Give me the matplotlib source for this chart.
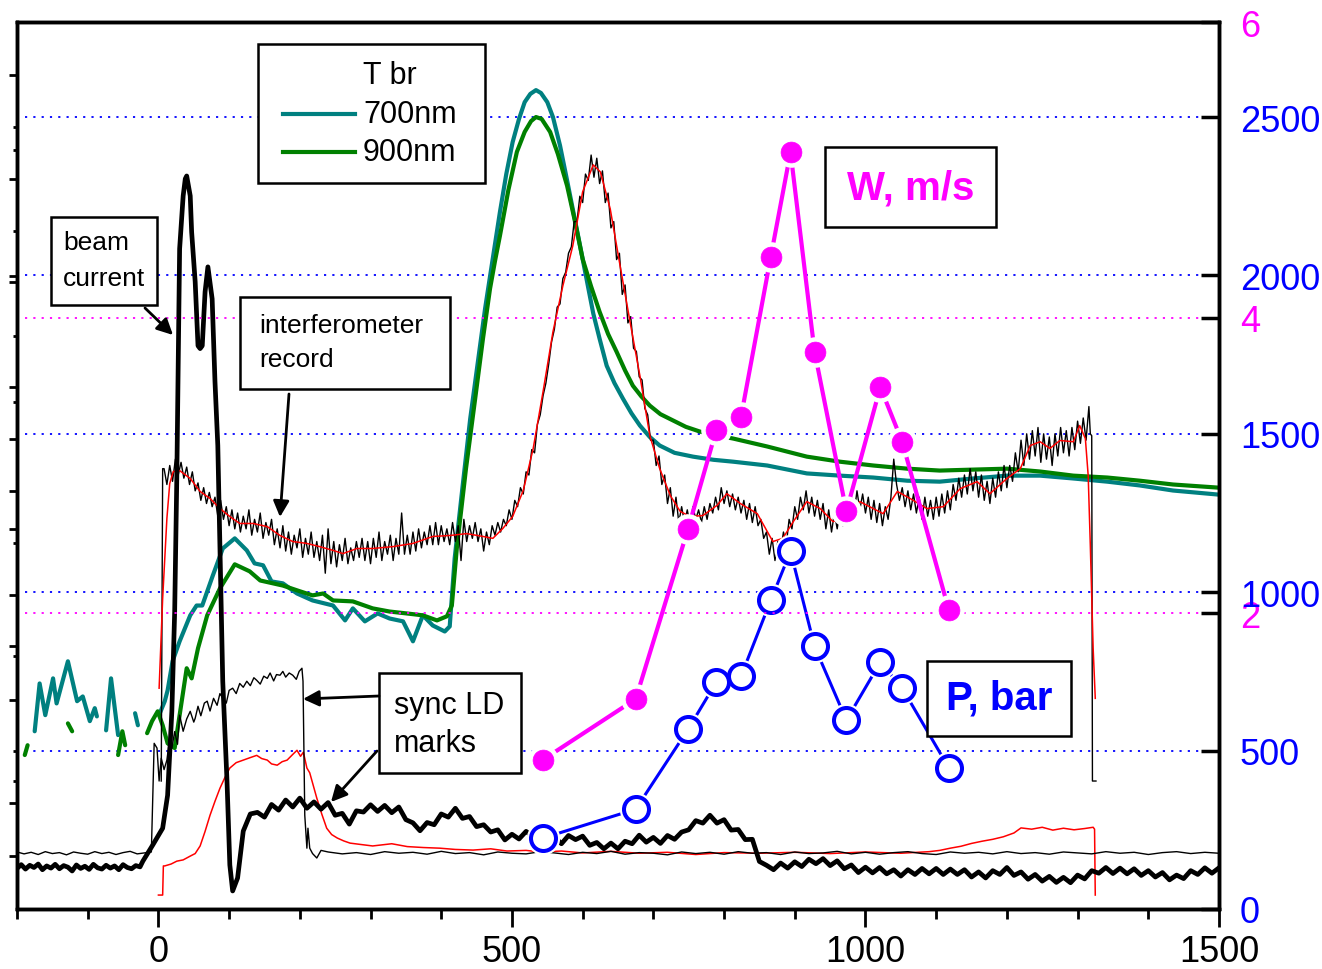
"""
Beam current / interferometer / brightness temperature record with W and P points
"""

import numpy as np
import matplotlib
matplotlib.use("Agg")
import matplotlib.pyplot as plt
from matplotlib.patches import Rectangle, FancyArrowPatch
from matplotlib.lines import Line2D

plt.rcParams["font.family"] = ["Liberation Sans", "DejaVu Sans"]

W_PX, H_PX = 1322, 970

# ---------------- data (x in ns, y in right-axis units) ----------------
# W (m/s) and P (bar) points
pt_x = [544, 675, 749, 789, 824, 866, 894, 928, 973, 1021, 1052, 1118]
w_ms = [1.01, 1.42, 2.57, 3.24, 3.33, 4.41, 5.12, 3.77, 2.69, 3.53, 3.16, 2.02]
p_bar = [224, 315, 567, 716, 735, 974, 1129, 829, 596, 779, 697, 445]

# T br 700 nm (teal); nan = gaps in the pre-trigger noise
t700_x = [-175, -168, -160, -149, -144, -128, -115, -107, -97, -90, -87, np.nan,
          -74, -67, -57, np.nan, -33, -29, np.nan,
          2, 9, 13, 20, 30, 45, 54, 62, 77, 91, 108, 125, 136, 148, 160, 176,
          196, 218, 247, 264, 275, 292, 310, 327, 346, 360, 374, 388, 405, 412,
          419, 430, 441, 452, 462, 473, 483, 492, 501, 510, 518, 526, 534, 541,
          550, 558, 568, 578, 586, 594, 600, 608, 615, 624, 634, 645, 657, 669,
          681, 695, 709, 730, 756, 785, 813, 861, 917, 964, 1011, 1059, 1105,
          1152, 1200, 1247, 1294, 1342, 1388, 1435, 1500]
t700_y = [561, 712, 612, 728, 649, 782, 656, 671, 593, 634, 608, np.nan,
          564, 728, 549, np.nan, 618, 580, np.nan,
          618, 656, 690, 782, 845, 927, 958, 958, 1053, 1138, 1170, 1132, 1091,
          1085, 1034, 1028, 996, 974, 958, 911, 949, 908, 933, 917, 908, 845,
          927, 895, 876, 892, 1107, 1330, 1548, 1730, 1895, 2055, 2200, 2320,
          2421, 2494, 2547, 2573, 2585, 2576, 2547, 2500, 2410, 2300, 2210,
          2120, 2052, 1960, 1880, 1800, 1715, 1660, 1611, 1565, 1526, 1490,
          1463, 1440, 1428, 1418, 1412, 1400, 1375, 1368, 1362, 1352, 1349,
          1359, 1368, 1368, 1359, 1349, 1337, 1321, 1308]

# T br 900 nm (green)
t900_x = [-189, -185, np.nan, -128, -122, np.nan, -57, -51, -47, np.nan,
          -16, -9, -1, 6, 13, 23, 30, 40, 47, 56, 69, 87, 108, 129, 144, 162,
          176, 200, 218, 233, 247, 275, 303, 327, 351, 374, 394, 408, 415, 422,
          435, 448, 459, 469, 476, 483, 495, 507, 518, 527, 534, 542, 554, 565,
          578, 589, 600, 612, 624, 636, 648, 660, 671, 683, 695, 710, 728, 746,
          766, 790, 813, 861, 917, 964, 1011, 1059, 1105, 1152, 1200, 1247,
          1294, 1342, 1388, 1435, 1500]
t900_y = [486, 517, np.nan, 586, 561, np.nan, 486, 561, 517, np.nan,
          555, 593, 624, 580, 523, 508, 612, 760, 728, 823, 927, 1012, 1088,
          1066, 1037, 1028, 1021, 1003, 990, 996, 974, 971, 949, 939, 933, 927,
          911, 924, 958, 1138, 1390, 1611, 1800, 1958, 2045, 2125, 2270, 2390,
          2453, 2487, 2500, 2494, 2453, 2383, 2283, 2172, 2052, 1965, 1885,
          1815, 1759, 1700, 1652, 1618, 1589, 1562, 1542, 1522, 1507, 1495,
          1485, 1460, 1428, 1412, 1400, 1390, 1384, 1387, 1390, 1381, 1368,
          1362, 1352, 1340, 1330]

# interferometer record, smoothed (red)
smooth_x = [1, 6, 12, 16, 21, 30, 45, 59, 73, 87, 101, 115, 134, 154, 172,
            190, 210, 228, 247, 261, 281, 303, 332, 360, 388, 412, 436, 459, 473,
            487, 501, 516, 530, 544, 558, 572, 586, 600, 615, 625, 639, 653, 667,
            681, 695, 709, 724, 738, 752, 770, 790, 804, 823, 847, 869, 883, 898,
            917, 936, 954, 968, 992, 1011, 1025, 1045, 1063, 1087, 1110, 1134,
            1158, 1176, 1200, 1219, 1233, 1247, 1261, 1275, 1294, 1303, 1311,
            1315, 1318, 1322, 1325]
smooth_y = [697, 980, 1233, 1343, 1381, 1384, 1359, 1318, 1296, 1264, 1239,
            1217, 1217, 1207, 1179, 1160, 1154, 1144, 1132, 1122, 1138, 1138,
            1144, 1154, 1176, 1179, 1185, 1176, 1170, 1201, 1239, 1321, 1453,
            1633, 1822, 1967, 2093, 2264, 2349, 2327, 2210, 2030, 1854, 1683,
            1494, 1390, 1305, 1255, 1239, 1242, 1274, 1311, 1280, 1248, 1160,
            1170, 1223, 1286, 1264, 1223, 1233, 1286, 1264, 1248, 1318, 1296,
            1264, 1270, 1327, 1349, 1311, 1359, 1390, 1463, 1475, 1454, 1479,
            1475, 1526, 1485, 1368, 1148, 823, 665]

# interferometer record, raw (thin black), sampled every 4 ns from 8 ns
raw_vals = [
    1390, 1340, 1400, 1350, 1420, 1370, 1410, 1360, 1395, 1340,
    1380, 1320, 1345, 1290, 1330, 1280, 1315, 1270, 1300, 1240,
    1290, 1230, 1270, 1210, 1260, 1200, 1250, 1190, 1240, 1200,
    1260, 1180, 1230, 1190, 1250, 1170, 1220, 1180, 1230, 1150,
    1200, 1140, 1210, 1130, 1190, 1120, 1180, 1140, 1200, 1110,
    1170, 1120, 1190, 1110, 1160, 1100, 1180, 1060, 1200, 1090,
    1160, 1080, 1150, 1100, 1170, 1090, 1140, 1100, 1160, 1110,
    1170, 1100, 1160, 1090, 1170, 1110, 1190, 1100, 1160, 1120,
    1180, 1100, 1170, 1120, 1250, 1120, 1180, 1120, 1190, 1130,
    1200, 1140, 1190, 1150, 1210, 1150, 1220, 1150, 1210, 1160,
    1200, 1150, 1220, 1160, 1210, 1100, 1230, 1160, 1210, 1170,
    1220, 1160, 1200, 1130, 1190, 1150, 1210, 1180, 1220, 1190,
    1230, 1210, 1260, 1230, 1290, 1270, 1330, 1310, 1380, 1370,
    1450, 1440, 1530, 1560, 1620, 1660, 1720, 1790, 1830, 1900,
    1910, 1990, 2010, 2070, 2090, 2170, 2170, 2250, 2230, 2320,
    2300, 2380, 2310, 2370, 2290, 2330, 2230, 2260, 2150, 2170,
    2050, 2070, 1940, 1970, 1850, 1870, 1770, 1760, 1680, 1670,
    1580, 1560, 1480, 1480, 1400, 1430, 1340, 1370, 1280, 1330,
    1240, 1300, 1220, 1270, 1220, 1260, 1210, 1270, 1230, 1260,
    1220, 1270, 1230, 1280, 1250, 1300, 1260, 1330, 1280, 1320,
    1270, 1310, 1260, 1300, 1250, 1290, 1230, 1280, 1220, 1270,
    1210, 1230, 1170, 1190, 1120, 1170, 1100, 1160, 1130, 1190,
    1150, 1230, 1200, 1270, 1230, 1300, 1260, 1320, 1250, 1300,
    1240, 1290, 1230, 1280, 1200, 1260, 1190, 1250, 1200, 1260,
    1210, 1280, 1230, 1300, 1250, 1320, 1260, 1310, 1250, 1300,
    1230, 1290, 1220, 1280, 1210, 1270, 1230, 1300, 1420, 1340,
    1290, 1330, 1270, 1320, 1260, 1310, 1250, 1300, 1230, 1300,
    1240, 1290, 1230, 1300, 1240, 1310, 1250, 1320, 1260, 1340,
    1290, 1360, 1300, 1370, 1310, 1390, 1320, 1380, 1300, 1370,
    1290, 1350, 1280, 1360, 1300, 1380, 1320, 1400, 1330, 1400,
    1350, 1440, 1380, 1480, 1400, 1500, 1420, 1510, 1430, 1520,
    1410, 1500, 1420, 1490, 1400, 1500, 1430, 1520, 1440, 1510,
    1430, 1520, 1450, 1540, 1470, 1550, 1480,
]
raw_start_x = [4, 6]
raw_start_y = [404, 1390]
raw_end_x = [1316, 1318, 1320, 1321, 1326]
raw_end_y = [1586, 1500, 1494, 404, 404]

# lower red trace
low_red_x = [0, 6, 7, 9, 18, 26, 35, 45, 52, 59, 66, 73, 80, 87, 94, 101, 110,
             120, 130, 139, 146, 154, 160, 168, 175, 182, 190, 196, 201, 205,
             210, 214, 219, 224, 231, 238, 245, 253, 262, 271, 285, 303, 330,
             352, 375, 398, 420, 445, 470, 493, 520, 540, 570, 600, 640, 680,
             720, 760, 800, 850, 900, 950, 1000, 1050, 1090, 1105, 1120, 1135,
             1150, 1165, 1180, 1195, 1210, 1220, 1235, 1250, 1265, 1280, 1295,
             1310, 1322, 1324, 1325]
low_red_y = [44, 44, 136, 136, 142, 151, 155, 167, 175, 199, 245, 296, 340,
             381, 415, 445, 462, 470, 478, 485, 475, 470, 458, 454, 465, 470,
             488, 501, 482, 495, 445, 430, 390, 350, 300, 255, 235, 224, 215,
             208, 204, 199, 206, 197, 194, 192, 188, 186, 190, 183, 185, 180,
             183, 177, 182, 176, 179, 172, 178, 176, 179, 175, 180, 176, 181,
             185, 192, 198, 207, 214, 220, 228, 240, 256, 252, 258, 249, 255,
             250, 254, 258, 252, 44]

# sync LD marks (thin black)
ld_pre = [180, 174, 179, 172, 181, 175, 178, 171, 180, 176,
          173, 181, 175, 179, 172, 178, 182, 174, 177, 180]      # -200..-10
ld_mid_x = [-6, -2, 1, 4, 8, 12, 16, 19, 23, 27, 30, 35, 40, 45, 50, 52, 56,
            60, 65, 69, 73, 78, 83, 87, 91, 96, 100, 105, 110, 115, 120, 125,
            130, 135, 139, 144, 149, 154, 158, 163, 167, 172, 176, 180, 185,
            190, 195, 199, 203, 204.5, 207, 210, 211.5, 214, 218, 224, 230]
ld_mid_y = [523, 508, 404, 476, 440, 470, 540, 508, 560, 520, 612, 561, 600,
            624, 590, 602, 640, 610, 650, 656, 625, 665, 643, 680, 665, 650,
            690, 697, 680, 712, 700, 719, 705, 730, 722, 710, 735, 728, 745,
            720, 740, 738, 750, 732, 745, 738, 725, 750, 760, 719, 296, 192,
            255, 192, 175, 161, 185]
ld_post = [180, 174, 178, 172, 181, 176, 179, 173, 182, 175,
           178, 171, 180, 176, 174, 181, 177, 172, 179, 175,
           182, 173, 178, 176, 171, 180, 175, 179, 173, 181,
           176, 178, 172, 180, 175, 177, 182, 174, 179, 173,
           178, 181, 175, 172, 180, 176, 179, 174, 181, 175,
           178, 173, 180, 177, 174, 181, 176, 179, 172, 178,
           181, 175, 179, 176]                                      # 240..1500

# beam current (thick black)
beam_pre = [128, 140, 126, 138, 131, 142, 124, 136, 129, 141,
            127, 137, 132, 120, 139, 128, 135, 125, 141, 130,
            126, 138, 129, 136, 124, 140, 131, 127, 137, 133]       # -200..-26
beam_mid_x = [-22, -8, 6, 13, 19, 23, 26, 30, 35, 38, 40, 45, 47, 52, 56, 59,
              62, 66, 70, 76, 80, 84, 87, 91, 97, 101, 105, 112, 120]
beam_mid_y = [151, 202, 255, 359, 624, 939, 1359, 2084, 2251, 2305, 2314, 2251,
              2137, 1980, 1778, 1769, 1778, 1948, 2027, 1926, 1665, 1463, 1138,
              719, 404, 139, 57, 98, 246]
beam_post = [300, 305, 290, 330, 312, 344, 322, 350, 318, 338,
             315, 336, 296, 302, 268, 310, 306, 329, 308, 327,
             304, 322, 282, 272, 247, 273, 266, 300, 290, 318,
             286, 292, 260, 266, 243, 250, 218, 236, 221, 245,
             228, 250, 216, 228, 206, 232, 219, 230, 201, 210,
             190, 208, 190, 214, 206, 233, 211, 226, 207, 232,
             220, 243, 250, 279, 271, 296, 271, 282, 249, 251,
             219, 220, 150, 138, 124, 145, 129, 149, 134, 157,
             143, 159, 137, 152, 127, 139, 115, 132, 114, 131,
             111, 124, 104, 124, 109, 128, 111, 128, 109, 126,
             109, 124, 101, 117, 98, 121, 109, 131, 106, 117,
             94, 109, 88, 103, 84, 100, 83, 107, 95, 121,
             113, 131, 112, 129, 111, 127, 106, 121, 101, 115,
             92, 107, 96, 121, 109, 130, 113, 130]                # 130..1500

# axis furniture
blue_ticks = [0, 500, 1000, 1500, 2000, 2500]
magenta_ticks = [2, 4, 6]
left_major = [2632, 2305, 1999, 1980, 1649, 1485, 1318, 1201, 990, 829, 659, 334, 167]
left_minor = [2468, 2396, 2141, 1810, 1601, 1154, 800, 498, 404]

BLUE = "#0000ff"
MAGENTA = "#ff00ff"
TEAL = "#008080"
GREEN = "#008000"
RED = "#ff0000"


def fxy(px, py):
    return (px / W_PX, 1 - py / H_PX)


fig = plt.figure(figsize=(13.22, 9.70), dpi=100)
ax = fig.add_axes([17 / W_PX, 1 - 910 / H_PX, (1219 - 17) / W_PX, (910 - 23) / H_PX])
ax.set_xlim(-200, 1500)
ax.set_ylim(0, 2800)

# dotted reference lines
for v in blue_ticks[1:]:
    ax.axhline(v, xmin=0.007, xmax=0.984, color=BLUE, lw=1.3,
               ls=(0, (1.2, 3.4)), zorder=0.5)

ax.plot(t700_x, t700_y, color=TEAL, lw=3.0, zorder=2, solid_capstyle="round",
        solid_joinstyle="round")
ax.plot(t900_x, t900_y, color=GREEN, lw=3.0, zorder=2.1, solid_capstyle="round",
        solid_joinstyle="round")

raw_x = raw_start_x + list(np.arange(8, 8 + 4 * len(raw_vals), 4)) + raw_end_x
raw_y = raw_start_y + raw_vals + raw_end_y
ax.plot(raw_x, raw_y, color="black", lw=1.0, zorder=3)
ax.plot(smooth_x, smooth_y, color=RED, lw=1.1, zorder=3.1)
ax.plot(low_red_x, low_red_y, color=RED, lw=1.1, zorder=3.2)

ld_x = list(np.arange(-200, -9, 10)) + ld_mid_x + list(np.arange(240, 1501, 20))
ld_y = ld_pre + ld_mid_y + ld_post
ax.plot(ld_x, ld_y, color="black", lw=1.0, zorder=3.3)

beam_x = list(np.arange(-200, -25, 6)) + beam_mid_x + list(np.arange(130, 1501, 10))
beam_y = beam_pre + beam_mid_y + beam_post
ax.plot(beam_x, beam_y, color="black", lw=3.4, zorder=3.4, solid_joinstyle="round")

# P, bar
ax.plot(pt_x, p_bar, color=BLUE, lw=2.2, zorder=5)
ax.plot(pt_x, p_bar, ls="none", marker="o", ms=24, mfc="white", mec="none", zorder=6)
ax.plot(pt_x, p_bar, ls="none", marker="o", ms=18, mfc="white", mec=BLUE,
        mew=2.9, zorder=7)

# axes ticks
ax.set_xticks([0, 500, 1000, 1500])
ax.set_xticks(np.arange(-200, 1501, 100), minor=True)
ax.tick_params(axis="x", which="major", direction="out", length=13, width=2,
               labelsize=26, pad=5)
ax.tick_params(axis="x", which="minor", direction="out", length=7, width=2)
ax.set_yticks(left_major)
ax.set_yticks(left_minor, minor=True)
ax.yaxis.set_ticks_position("left")
ax.tick_params(axis="y", which="major", direction="out", length=6, width=2,
               labelleft=False)
ax.tick_params(axis="y", which="minor", direction="out", length=3, width=2)

# W, m/s on magenta scale
ax2 = ax.twinx()
ax2.set_ylim(0, 6)
for v in magenta_ticks[:-1]:
    ax2.axhline(v, xmin=0.007, xmax=0.984, color=MAGENTA, lw=1.3,
                ls=(0, (1.2, 3.4)), zorder=0.5)
ax2.plot(pt_x, w_ms, color=MAGENTA, lw=3.0, zorder=5)
ax2.plot(pt_x, w_ms, ls="none", marker="o", ms=22, mfc="white", mec="none", zorder=6)
ax2.plot(pt_x, w_ms, ls="none", marker="o", ms=15, mfc=MAGENTA, mec=MAGENTA,
         mew=0.5, zorder=7)
ax2.set_yticks(magenta_ticks)
ax2.tick_params(axis="y", direction="in", length=13, width=2.5, labelsize=26,
                labelcolor=MAGENTA, pad=15)

ax3 = ax.twinx()
ax3.set_ylim(0, 2800)
ax3.set_yticks(blue_ticks)
ax3.tick_params(axis="y", direction="in", length=13, width=2.5, labelsize=26,
                labelcolor=BLUE, pad=15)

for a in (ax, ax2, ax3):
    for s in a.spines.values():
        s.set_linewidth(2.4)

# boxes and labels
boxes = [(51, 218, 157, 306), (240, 298, 450, 390), (258, 45, 485, 184),
         (825, 148, 996, 228), (927, 662, 1071, 737), (379, 674, 521, 774)]
for x0, y0, x1, y1 in boxes:
    fig.add_artist(Rectangle(fxy(x0, y1), (x1 - x0) / W_PX, (y1 - y0) / H_PX,
                             transform=fig.transFigure, fc="white", ec="black",
                             lw=1.8, zorder=10))

labels = [("beam", 63, 243, 19), ("current", 63, 279, 19),
          ("interferometer", 259, 326, 19), ("record", 259, 360, 19),
          ("T br", 363, 76, 22), ("700nm", 363, 115, 22), ("900nm", 363, 153, 22),
          ("sync LD", 394, 706, 22), ("marks", 394, 744, 22)]
for s, px, py, fs in labels:
    fig.text(*fxy(px, py), s, fontsize=fs, ha="left", va="center", zorder=11)

fig.text(*fxy(911, 188), "W, m/s", fontsize=29, fontweight="bold", color=MAGENTA,
         ha="center", va="center", zorder=11)
fig.text(*fxy(999, 699), "P, bar", fontsize=29, fontweight="bold", color=BLUE,
         ha="center", va="center", zorder=11)

for (px, py), c in (((283, 115), TEAL), ((283, 153), GREEN)):
    x0, y0 = fxy(px, py)
    x1, _ = fxy(px + 72, py)
    fig.add_artist(Line2D([x0, x1], [y0, y0], color=c, lw=3,
                          transform=fig.transFigure, zorder=11))

arrows = [((145, 309), (173, 336)), ((289, 395), (280, 518)),
          ((379, 697), (303, 700)), ((377, 752), (331, 803))]
for a, b in arrows:
    fig.add_artist(FancyArrowPatch(fxy(*a), fxy(*b), transform=fig.transFigure,
                                   arrowstyle="-|>", mutation_scale=24, lw=2,
                                   color="black", shrinkA=0, shrinkB=0, zorder=12))

fig.savefig("out.png", dpi=100)
plt.close(fig)
